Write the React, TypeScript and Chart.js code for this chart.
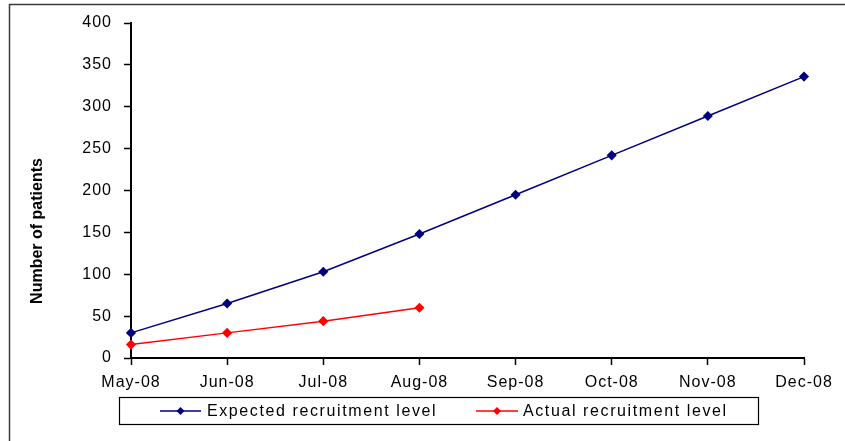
import React, { useEffect, useRef } from 'react';
import { Chart, registerables } from 'chart.js';

Chart.register(...registerables);

const categories = ['May-08', 'Jun-08', 'Jul-08', 'Aug-08', 'Sep-08', 'Oct-08', 'Nov-08', 'Dec-08'];
const expectedValues = [30, 65, 103, 148, 195, 242, 289, 336];
const actualValues = [16, 30, 44, 60];
const seriesNames = ['Expected recruitment level', 'Actual recruitment level'];
const seriesColors = ['#000080', '#FF0000'];
const yAxisTitle = 'Number of patients';
const yMin = 0;
const yMax = 400;
const yStep = 50;

const FONT = '"Liberation Sans", Arial, sans-serif';
const TICK_SPACING = '1px';

function drawDiamond(ctx: CanvasRenderingContext2D, x: number, y: number, r: number, color: string) {
  ctx.beginPath();
  ctx.moveTo(x, y - r);
  ctx.lineTo(x + r, y);
  ctx.lineTo(x, y + r);
  ctx.lineTo(x - r, y);
  ctx.closePath();
  ctx.fillStyle = color;
  ctx.fill();
}

const customPlugin = {
  id: 'customDecor',
  beforeInit(chart: any) {
    (chart.ctx as any).letterSpacing = TICK_SPACING;
  },
  beforeUpdate(chart: any) {
    (chart.ctx as any).letterSpacing = TICK_SPACING;
  },
  beforeDraw(chart: any) {
    (chart.ctx as any).letterSpacing = TICK_SPACING;
  },
  afterDraw(chart: any) {
    const ctx: CanvasRenderingContext2D = chart.ctx;
    ctx.save();
    // outer frame (left + top edges)
    ctx.strokeStyle = '#3a3a3a';
    ctx.lineWidth = 1.5;
    ctx.beginPath();
    ctx.moveTo(9.5, 441);
    ctx.lineTo(9.5, 4.5);
    ctx.lineTo(845, 4.5);
    ctx.stroke();

    // y axis title
    ctx.save();
    (ctx as any).letterSpacing = '0px';
    ctx.translate(38, 231);
    ctx.rotate(-Math.PI / 2);
    ctx.font = `bold 16px ${FONT}`;
    ctx.fillStyle = '#000';
    ctx.textAlign = 'center';
    ctx.textBaseline = 'middle';
    ctx.fillText(yAxisTitle, 0, 0);
    ctx.restore();

    // legend box
    ctx.strokeStyle = '#000';
    ctx.lineWidth = 1.2;
    ctx.strokeRect(119.5, 397.5, 639, 27);
    const entries = [
      { x0: 160, x1: 201, tx: 207 },
      { x0: 476, x1: 518, tx: 523 },
    ];
    const ly = 411;
    chart.data.datasets.forEach((ds: any, i: number) => {
      const e = entries[i];
      ctx.strokeStyle = ds.borderColor;
      ctx.lineWidth = 1.5;
      ctx.beginPath();
      ctx.moveTo(e.x0, ly);
      ctx.lineTo(e.x1, ly);
      ctx.stroke();
      drawDiamond(ctx, (e.x0 + e.x1) / 2, ly, 4, ds.borderColor);
      (ctx as any).letterSpacing = '1.6px';
      ctx.font = `16px ${FONT}`;
      ctx.fillStyle = '#000';
      ctx.textAlign = 'left';
      ctx.textBaseline = 'middle';
      ctx.fillText(ds.label, e.tx, ly + 1);
    });
    ctx.restore();
  },
};

export default function App() {
  const canvasRef = useRef<HTMLCanvasElement | null>(null);

  useEffect(() => {
    document.body.style.margin = '0';
    const canvas = canvasRef.current;
    if (!canvas) return;
    const chart = new Chart(canvas, {
      type: 'line',
      data: {
        labels: categories,
        datasets: [
          {
            label: seriesNames[0],
            data: expectedValues,
            borderColor: seriesColors[0],
            backgroundColor: seriesColors[0],
            borderWidth: 1.5,
            pointStyle: 'rectRot',
            pointRadius: 4,
            pointHoverRadius: 4,
            tension: 0,
            fill: false,
            clip: false as any,
          },
          {
            label: seriesNames[1],
            data: actualValues,
            borderColor: seriesColors[1],
            backgroundColor: seriesColors[1],
            borderWidth: 1.5,
            pointStyle: 'rectRot',
            pointRadius: 4,
            pointHoverRadius: 4,
            tension: 0,
            fill: false,
            clip: false as any,
          },
        ],
      },
      options: {
        responsive: false,
        animation: false,
        devicePixelRatio: 1,
        layout: { padding: { left: 0, right: 41, top: 23, bottom: 0 } },
        plugins: {
          legend: { display: false },
          tooltip: { enabled: false },
          title: { display: false },
        },
        scales: {
          x: {
            type: 'category',
            offset: false,
            grid: {
              drawOnChartArea: false,
              drawTicks: true,
              tickLength: 7,
              tickColor: '#000',
              tickWidth: 1.5,
              offset: false,
            },
            border: { display: true, color: '#000', width: 2 },
            ticks: {
              color: '#000',
              font: { family: FONT, size: 16 },
              padding: 8,
              autoSkip: false,
              maxRotation: 0,
              minRotation: 0,
            },
            afterFit(scale: any) {
              scale.height = 83;
            },
          },
          y: {
            min: yMin,
            max: yMax,
            grid: {
              drawOnChartArea: false,
              drawTicks: true,
              tickLength: 7,
              tickColor: '#000',
              tickWidth: 1.5,
            },
            border: { display: true, color: '#000', width: 2 },
            ticks: {
              stepSize: yStep,
              color: '#000',
              font: { family: FONT, size: 16 },
              padding: 12,
            },
            afterFit(scale: any) {
              scale.width = 131;
            },
          },
        },
      },
      plugins: [customPlugin],
    });
    return () => chart.destroy();
  }, []);

  return (
    <div style={{ position: 'absolute', left: 0, top: 0, width: 845, height: 441, background: '#fff' }}>
      <canvas ref={canvasRef} width={845} height={441} style={{ width: 845, height: 441, display: 'block' }} />
    </div>
  );
}
